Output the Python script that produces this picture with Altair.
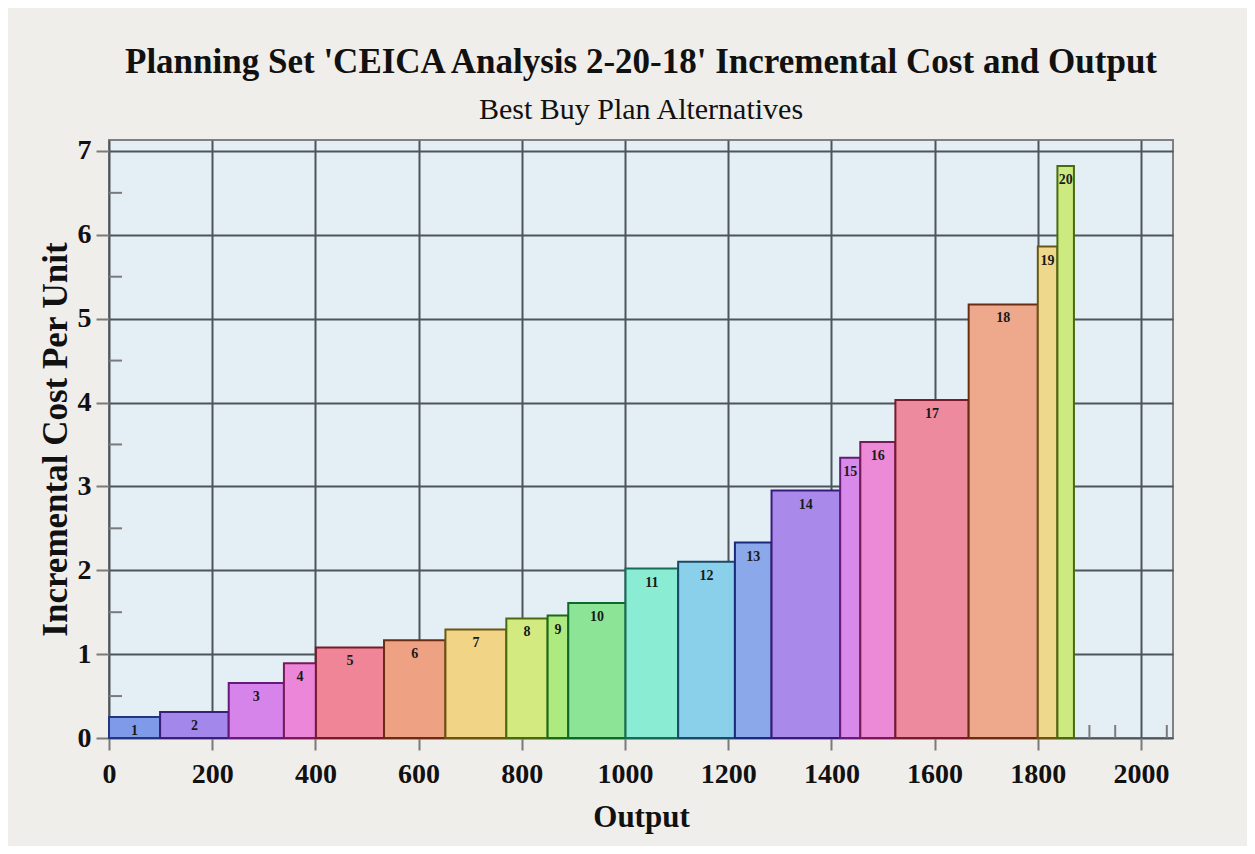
import altair as alt
import pandas as pd

# ---- data ----
plan = ["1", "2", "3", "4", "5", "6", "7", "8", "9", "10",
        "11", "12", "13", "14", "15", "16", "17", "18", "19", "20"]
output_end = [99, 232, 339, 401, 533, 652, 770, 850, 890, 1001,
              1103, 1213, 1284, 1417, 1456, 1524, 1666, 1800, 1838, 1870]
cost = [0.25, 0.31, 0.655, 0.89, 1.08, 1.165, 1.295, 1.425, 1.46, 1.61,
        2.02, 2.10, 2.33, 2.95, 3.34, 3.53, 4.03, 5.17, 5.86, 6.82]
x_ticks = [0, 200, 400, 600, 800, 1000, 1200, 1400, 1600, 1800, 2000]
y_ticks = [0, 1, 2, 3, 4, 5, 6, 7]
minor_x = [1900, 1950, 2050]
minor_y = [0.5, 1.5, 2.5, 3.5, 4.5, 5.5, 6.5]

fills = ["#7f9ae8", "#a487ea", "#d683ea", "#eb86d9", "#ef8596", "#efa283",
         "#f1d486", "#d3ea80", "#aeea80", "#8ce596", "#8aedd3", "#8ad0ea",
         "#8aa8ea", "#a98aea", "#d88aea", "#ec8ad8", "#ee8a9e", "#eea88c",
         "#eed88c", "#cdea80"]
strokes = ["#24347e", "#36207a", "#66197a", "#761a58", "#761a2c", "#6a2c12",
           "#6a5612", "#4a6a12", "#1a6a1a", "#0e6a2a", "#1a6a5a", "#1a4a6a",
           "#1a2a7a", "#381a7a", "#661a7a", "#761a58", "#761a2c", "#6a2c12",
           "#6a5612", "#4a6a12"]

df = pd.DataFrame({
    "plan": plan,
    "x0": [0] + output_end[:-1],
    "x1": output_end,
    "cost": cost,
})
df["base"] = 0.0
df["mid"] = (df["x0"] + df["x1"]) / 2

FONT = "Liberation Serif"

xs = alt.Scale(domain=[0, 2062], nice=False, zero=False)
ys = alt.Scale(domain=[0, 7.13], nice=False, zero=False)

xaxis = alt.Axis(
    values=x_ticks, format="d", title="Output",
    grid=True, gridColor="#4d555a", gridWidth=2,
    domain=False, ticks=True, tickSize=12, tickColor="#7a7a7a", tickWidth=2,
    labelFont=FONT, labelFontSize=28, labelFontWeight="bold", labelColor="#111111",
    labelPadding=10, labelFlush=False,
    titleFont=FONT, titleFontSize=31, titleFontWeight="bold", titleColor="#111111",
    titlePadding=14,
)
yaxis = alt.Axis(
    values=y_ticks, format="d", title="Incremental Cost Per Unit",
    grid=True, gridColor="#4d555a", gridWidth=2,
    domain=False, ticks=True, tickSize=13, tickColor="#7a7a7a", tickWidth=2,
    labelFont=FONT, labelFontSize=28, labelFontWeight="bold", labelColor="#111111",
    labelPadding=5, labelFlush=False,
    titleFont=FONT, titleFontSize=35, titleFontWeight="bold", titleColor="#111111",
    titlePadding=4,
)

mx_df = pd.DataFrame({"x0": minor_x})
my_df = pd.DataFrame({"base": minor_y})

minor_x_layer = alt.Chart(mx_df).mark_rule(color="#7a7a7a", strokeWidth=2).encode(
    x=alt.X("x0:Q", scale=xs, axis=xaxis),
    y=alt.value(598), y2=alt.value(585),
)
minor_y_layer = alt.Chart(my_df).mark_rule(color="#7a7a7a", strokeWidth=2).encode(
    y=alt.Y("base:Q", scale=ys, axis=yaxis),
    x=alt.value(0), x2=alt.value(13),
)

bars = alt.Chart(df).mark_rect(strokeWidth=2).encode(
    x=alt.X("x0:Q", scale=xs, axis=xaxis),
    x2="x1:Q",
    y=alt.Y("base:Q", scale=ys, axis=yaxis),
    y2="cost:Q",
    fill=alt.Fill("plan:N", scale=alt.Scale(domain=plan, range=fills), legend=None),
    stroke=alt.Stroke("plan:N", scale=alt.Scale(domain=plan, range=strokes), legend=None),
)

labels = alt.Chart(df).mark_text(
    font=FONT, fontSize=14, fontWeight="bold", color="#1a1a1a",
    baseline="middle", align="center", dy=14,
).encode(
    x=alt.X("mid:Q", scale=xs, axis=xaxis),
    y=alt.Y("cost:Q", scale=ys, axis=yaxis),
    text="plan:N",
)

chart = alt.layer(minor_x_layer, minor_y_layer, bars, labels).properties(
    width=1064,
    height=598,
    autosize=alt.AutoSizeParams(type="none"),
    padding={"left": 101, "top": 132, "right": 74, "bottom": 108},
    background="#f0eeea",
    title=alt.TitleParams(
        text="Planning Set 'CEICA Analysis 2-20-18' Incremental Cost and Output",
        subtitle="Best Buy Plan Alternatives",
        font=FONT, fontSize=35, fontWeight="bold", color="#111111",
        subtitleFont=FONT, subtitleFontSize=30, subtitleColor="#111111",
        anchor="middle", offset=12, subtitlePadding=15,
    ),
).configure_view(fill="#e4eff5", stroke="#808080", strokeWidth=2)

chart.save("out.html", embed_options={"renderer": "svg", "actions": False})
